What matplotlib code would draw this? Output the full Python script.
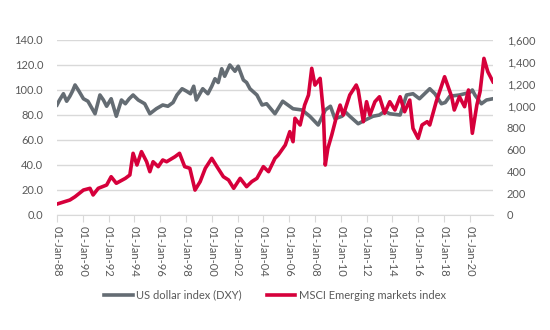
import matplotlib
matplotlib.use("Agg")
import matplotlib.pyplot as plt

plt.rcParams['font.family'] = ['Lato', 'DejaVu Sans']

# decimal years and values
dxy_t = [1988.0, 1988.2, 1988.5, 1988.75, 1989.0, 1989.2, 1989.4, 1989.65, 1990.05, 1990.4,
         1990.95, 1991.33, 1991.6, 1991.85, 1992.2, 1992.6, 1993.0, 1993.3, 1993.6, 1993.9,
         1994.3, 1994.8, 1995.2, 1995.7, 1996.2, 1996.6, 1997.0, 1997.3, 1997.7, 1998.05,
         1998.35, 1998.6, 1998.8, 1999.3, 1999.7, 2000.0, 2000.25, 2000.5, 2000.77, 2001.0,
         2001.4, 2001.8, 2002.05, 2002.45, 2002.7, 2002.96, 2003.5, 2003.9, 2004.25, 2004.9,
         2005.5, 2005.9, 2006.3, 2007.0, 2007.6, 2008.25, 2008.8, 2009.2, 2009.55, 2010.1,
         2010.3, 2010.7, 2011.35, 2011.9, 2012.5, 2013.0, 2013.4, 2013.8, 2014.6, 2015.1,
         2015.6, 2016.1, 2016.4, 2016.9, 2017.3, 2017.8, 2018.1, 2018.45, 2019.2, 2020.0,
         2020.2, 2020.4, 2020.9, 2021.3, 2021.8]
dxy = [88, 92, 97, 91, 95, 99, 104, 100, 93, 91,
       81, 96, 92, 87, 93, 79, 92, 89, 93, 96,
       92, 89, 81, 85, 88, 87, 90, 96, 101, 99,
       97, 103, 92, 101, 97, 103, 109, 106, 117, 111,
       120, 115, 119, 108, 106, 101, 96, 88, 89, 81,
       91, 88, 85, 84, 79, 72, 84, 87, 77, 79,
       83, 79, 73, 76, 79, 80, 83, 81, 80, 96,
       97, 93, 96, 101, 97, 89, 90, 95, 96, 98,
       100, 96, 89, 92, 93]

em_t = [1988.0, 1989.0, 1989.4, 1990.05, 1990.56, 1990.8, 1991.2, 1991.85, 1992.2, 1992.6,
        1993.3, 1993.65, 1993.9, 1994.2, 1994.55, 1994.95, 1995.2, 1995.45, 1995.85, 1996.2,
        1996.5, 1997.15, 1997.5, 1997.9, 1998.3, 1998.7, 1999.1, 1999.5, 2000.0, 2000.4,
        2000.9, 2001.3, 2001.7, 2002.2, 2002.7, 2003.1, 2003.5, 2004.0, 2004.4, 2004.9,
        2005.15, 2005.7, 2006.05, 2006.3, 2006.45, 2006.85, 2007.2, 2007.5, 2007.75, 2008.0,
        2008.4, 2008.65, 2008.8, 2009.0, 2009.3, 2009.7, 2009.95, 2010.2, 2010.7, 2011.2,
        2011.35, 2011.75, 2012.0, 2012.26, 2012.65, 2013.0, 2013.4, 2013.8, 2014.2, 2014.6,
        2014.95, 2015.35, 2015.6, 2016.0, 2016.3, 2016.7, 2016.9, 2017.4, 2018.05, 2018.6,
        2018.8, 2019.2, 2019.6, 2019.9, 2020.2, 2020.55, 2020.8, 2021.1, 2021.4, 2021.8]
em = [100, 137, 167, 228, 244, 183, 244, 274, 350, 290,
      335, 366, 564, 457, 579, 487, 396, 487, 442, 503,
      487, 533, 564, 442, 427, 228, 305, 427, 518, 442,
      350, 320, 244, 335, 259, 305, 335, 442, 396, 518,
      548, 640, 762, 670, 884, 823, 1005, 1097, 1341, 1188,
      1249, 944, 457, 609, 731, 914, 1005, 914, 1097, 1188,
      1143, 853, 1036, 914, 1036, 1081, 930, 1036, 960, 1081,
      944, 1051, 792, 701, 823, 853, 823, 1036, 1264, 1081,
      960, 1081, 990, 1143, 747, 1005, 1127, 1432, 1310, 1218]

tick_years = list(range(1988, 2021, 2))
tick_labels = ['01-Jan-%02d' % (y % 100) for y in tick_years]

txt = '#595959'
grid_c = '#d9d9d9'

fig = plt.figure(figsize=(5.5, 3.3), dpi=100)
ax = fig.add_axes((0.1036, 0.3485, 0.7927, 0.5303))
ax2 = ax.twinx()

l1, = ax.plot(dxy_t, dxy, color='#646c73', lw=2.6, solid_joinstyle='round')
l2, = ax2.plot(em_t, em, color='#d6003b', lw=2.6, solid_joinstyle='round')

ax.set_xlim(1988, 2021.8)
ax.set_ylim(0, 140)
ax2.set_ylim(0, 1600)
ax.set_yticks(range(0, 141, 20))
ax.set_yticklabels(['%.1f' % v for v in range(0, 141, 20)])
ax2.set_yticks(range(0, 1601, 200))
ax2.set_yticklabels(['{:,}'.format(v) for v in range(0, 1601, 200)])
ax.set_xticks(tick_years)
ax.set_xticklabels(tick_labels, rotation=270)

ax.grid(axis='y', color=grid_c, lw=1)
ax.set_axisbelow(True)
for a in (ax, ax2):
    for s in a.spines.values():
        s.set_visible(False)
ax.spines['bottom'].set_visible(True)
ax.spines['bottom'].set_color(grid_c)
ax.tick_params(axis='y', length=0, labelsize=8, labelcolor=txt, pad=10)
ax2.tick_params(axis='y', length=0, labelsize=8, labelcolor=txt, pad=10)
ax.tick_params(axis='x', length=5, color=grid_c, labelsize=8, labelcolor=txt, pad=3)

fig.legend([l1, l2], ['US dollar index (DXY)', 'MSCI Emerging markets index'],
           loc='center', bbox_to_anchor=(0.5, 0.106), ncol=2, frameon=False,
           fontsize=8, labelcolor=txt, handlelength=2.6, columnspacing=2.2,
           handletextpad=0.3)

fig.savefig('out.png', dpi=100)
